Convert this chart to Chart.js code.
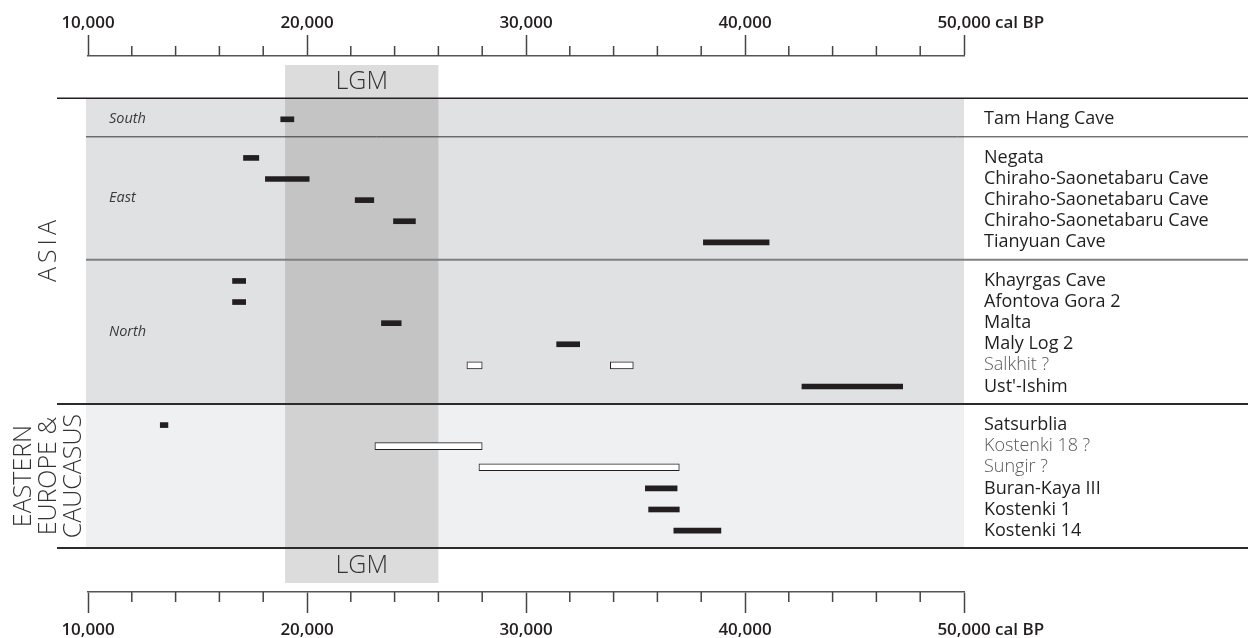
<!DOCTYPE html>
<html>
<head>
<meta charset="utf-8">
<script src="https://cdn.jsdelivr.net/npm/chart.js@4.4.1/dist/chart.umd.min.js"></script>
<style>
  html, body { margin: 0; padding: 0; background: #fff; }
</style>
</head>
<body>
<canvas id="chart" width="1248" height="638"></canvas>
<script>
// sites, top to bottom
const sites = [
  'Tam Hang Cave',
  'Negata', 'Chiraho-Saonetabaru Cave', 'Chiraho-Saonetabaru Cave', 'Chiraho-Saonetabaru Cave', 'Tianyuan Cave',
  'Khayrgas Cave', 'Afontova Gora 2', 'Malta', 'Maly Log 2', 'Salkhit ?', "Ust'-Ishim",
  'Satsurblia', 'Kostenki 18 ?', 'Sungir ?', 'Buran-Kaya III', 'Kostenki 1', 'Kostenki 14'
];
const siteRegion = [0, 1, 1, 1, 1, 1, 2, 2, 2, 2, 2, 2, 3, 3, 3, 3, 3, 3];
const regionNames = ['South', 'East', 'North', ''];
const regionArea = [0, 0, 0, 1];
const areaNames = [['ASIA'], ['EASTERN', 'EUROPE &', 'CAUCASUS']];

// age ranges (cal BP), one per bar; Salkhit has two
const rangeSite = [0, 1, 2, 3, 4, 5, 6, 7, 8, 9, 10, 10, 11, 12, 13, 14, 15, 16, 17];
const rangeFrom = [18800, 17100, 18100, 22200, 23950, 38100, 16600, 16600, 23400, 31400, 27300, 33850, 42600, 13300, 23100, 27850, 35450, 35600, 36750];
const rangeTo   = [19400, 17800, 20100, 23050, 24950, 41100, 17200, 17200, 24300, 32450, 28000, 34900, 47200, 13650, 28000, 37000, 36900, 37000, 38900];

const majorAges = [10000, 20000, 30000, 40000, 50000];
const majorLabels = ['10,000', '20,000', '30,000', '40,000', '50,000'];
const ageUnit = 'cal BP';
const lgm = [19000, 26000];

const GROUP_GAP = 1.83;
const INK = '#231f20';
const uncertain = sites.map(s => s.endsWith('?'));

// row position of each site, extra space between regions
const rowOf = [];
sites.forEach((s, i) => {
  if (i === 0) rowOf.push(0);
  else rowOf.push(rowOf[i - 1] + (siteRegion[i] === siteRegion[i - 1] ? 1 : GROUP_GAP));
});

const solidBars = [], openBars = [];
rangeSite.forEach((s, k) => {
  const pt = { x: [rangeFrom[k], rangeTo[k]], y: rowOf[s] };
  (uncertain[s] ? openBars : solidBars).push(pt);
});

const LABEL_FONT = { family: "'Open Sans', sans-serif", size: 17, weight: '600' };

const decor = {
  id: 'decor',
  beforeDatasetsDraw(chart) {
    const { ctx, chartArea: ca, scales } = chart;
    const x = scales.x, y = scales.y;
    const W = chart.width;
    const left = ca.left - 2, axisLeft = 57;

    // region boundaries
    const starts = [], ends = [];
    siteRegion.forEach((r, i) => {
      if (i === 0 || r !== siteRegion[i - 1]) starts.push(i);
      if (i === sites.length - 1 || r !== siteRegion[i + 1]) ends.push(i);
    });
    const topOf = g => y.getPixelForValue(rowOf[starts[g]] - 1);
    const botOf = g => y.getPixelForValue(rowOf[ends[g]] + GROUP_GAP - 1);

    // area panels
    const areaFill = ['#e0e1e3', '#eff0f2'];
    const lgmFill = ['#c4c4c5', '#d2d2d2'];
    const areaSpan = areaNames.map((_, a) => {
      const gs = regionNames.map((_, g) => g).filter(g => regionArea[g] === a);
      return [topOf(gs[0]), botOf(gs[gs.length - 1])];
    });
    const lx0 = x.getPixelForValue(lgm[0]), lx1 = x.getPixelForValue(lgm[1]);
    ctx.save();
    ctx.fillStyle = '#dcdcdc';
    ctx.fillRect(lx0, ca.top + 9, lx1 - lx0, ca.bottom - ca.top - 18);
    areaSpan.forEach(([t, b], a) => {
      ctx.fillStyle = areaFill[a];
      ctx.fillRect(left, t, ca.right - left, b - t);
      ctx.fillStyle = lgmFill[a];
      ctx.fillRect(lx0, t, lx1 - lx0, b - t);
    });

    // LGM labels
    ctx.fillStyle = '#333';
    ctx.font = "300 25px 'Open Sans', sans-serif";
    ctx.textAlign = 'center';
    ctx.textBaseline = 'middle';
    const first = areaSpan[0][0], last = areaSpan[areaSpan.length - 1][1];
    ctx.fillText('LGM', (lx0 + lx1) / 2, (ca.top + 9 + first) / 2);
    ctx.fillText('LGM', (lx0 + lx1) / 2, (ca.bottom - 9 + last) / 2);

    // lines
    const hline = (yy, x0, w, col) => {
      ctx.strokeStyle = col; ctx.lineWidth = w;
      ctx.beginPath(); ctx.moveTo(x0, yy); ctx.lineTo(W, yy); ctx.stroke();
    };
    hline(first, axisLeft, 1.5, INK);
    areaSpan.forEach(([t, b]) => hline(b, axisLeft, 2, '#2b2b2b'));
    const subStyle = [[1, '#333'], [2, '#808080']];
    let si = 0;
    regionNames.forEach((_, g) => {
      if (g > 0 && regionArea[g] === regionArea[g - 1]) {
        const st = subStyle[Math.min(si++, subStyle.length - 1)];
        hline(topOf(g), left, st[0], st[1]);
      }
    });

    // region names
    ctx.fillStyle = '#3a3a3a';
    ctx.font = "italic 400 14.5px 'Open Sans', sans-serif";
    ctx.textAlign = 'left';
    regionNames.forEach((name, g) => {
      if (!name) return;
      const mid = (rowOf[starts[g]] + rowOf[ends[g]]) / 2;
      ctx.fillText(name, 109, y.getPixelForValue(mid) - (starts[g] === ends[g] ? 0 : 2));
    });

    // area names, rotated
    ctx.fillStyle = '#333';
    ctx.font = "300 25px 'Open Sans', sans-serif";
    ctx.textAlign = 'center';
    areaNames.forEach((lines, a) => {
      const [t, b] = areaSpan[a];
      ctx.save();
      ctx.translate(49, (t + b) / 2);
      ctx.rotate(-Math.PI / 2);
      ctx.letterSpacing = lines.length === 1 ? '4px' : '0px';
      lines.forEach((ln, i) => ctx.fillText(ln, lines.length === 1 ? 2 : 0, (i - (lines.length - 1) / 2) * 25));
      ctx.restore();
    });
    ctx.restore();
  },
  afterDraw(chart) {
    const { ctx, chartArea: ca, scales } = chart;
    ctx.save();
    ctx.strokeStyle = '#444';
    ctx.lineWidth = 1.5;
    // minor ticks
    [scales.x2, scales.x].forEach(s => {
      s.ticks.forEach(t => {
        if (majorAges.includes(t.value)) return;
        const px = s.getPixelForValue(t.value);
        ctx.beginPath();
        if (s.position === 'top') { ctx.moveTo(px, ca.top); ctx.lineTo(px, ca.top - 10); }
        else { ctx.moveTo(px, ca.bottom); ctx.lineTo(px, ca.bottom + 10); }
        ctx.stroke();
      });
    });
    // unit after last label
    ctx.font = `${LABEL_FONT.weight} ${LABEL_FONT.size}px ${LABEL_FONT.family}`;
    ctx.fillStyle = INK;
    ctx.textAlign = 'left';
    ctx.textBaseline = 'middle';
    const lh = LABEL_FONT.size * 1.2;
    const last = majorAges[majorAges.length - 1];
    const lx = scales.x.getPixelForValue(last) + ctx.measureText(majorLabels[majorLabels.length - 1]).width / 2;
    const topY = scales.x2.bottom - 21 - scales.x2.options.ticks.padding - lh / 2;
    const botY = scales.x.top + 21 + scales.x.options.ticks.padding + lh / 2;
    ctx.fillText(' ' + ageUnit, lx, topY);
    ctx.fillText(' ' + ageUnit, lx, botY);
    ctx.restore();
  }
};

const ageAxis = (position, pad, h) => ({
  type: 'linear',
  position,
  min: majorAges[0],
  max: majorAges[majorAges.length - 1],
  afterFit: s => { s.height = h; },
  border: { display: true, color: '#555', width: 1.5 },
  grid: {
    drawOnChartArea: false,
    tickLength: 21,
    tickWidth: 1.5,
    tickColor: c => (c.tick && majorAges.includes(c.tick.value)) ? '#444' : 'rgba(0,0,0,0)'
  },
  ticks: {
    stepSize: 2000,
    autoSkip: false,
    maxRotation: 0,
    padding: pad,
    color: INK,
    font: LABEL_FONT,
    callback: v => { const i = majorAges.indexOf(v); return i >= 0 ? majorLabels[i] : ''; }
  }
});

new Chart(document.getElementById('chart'), {
  type: 'bar',
  data: {
    datasets: [
      {
        label: 'dated',
        data: solidBars,
        backgroundColor: INK,
        borderWidth: 0,
        barThickness: 5,
        grouped: false,
        xAxisID: 'x',
        yAxisID: 'y'
      },
      {
        label: 'uncertain',
        data: openBars,
        backgroundColor: '#ffffff',
        borderColor: INK,
        borderWidth: 1,
        borderSkipped: false,
        barThickness: 7,
        grouped: false,
        xAxisID: 'x',
        yAxisID: 'y'
      }
    ]
  },
  options: {
    indexAxis: 'y',
    responsive: false,
    animation: false,
    layout: { padding: { left: 88, right: 0, top: 0, bottom: 0 } },
    plugins: { legend: { display: false }, tooltip: { enabled: false } },
    scales: {
      x: ageAxis('bottom', 7, 46),
      x2: ageAxis('top', 2, 56),
      y: {
        type: 'linear',
        position: 'right',
        reverse: true,
        offset: false,
        min: -3,
        max: 22.4,
        afterBuildTicks: s => { s.ticks = rowOf.map(v => ({ value: v })); },
        afterFit: s => { s.width = 284; },
        grid: { display: false, drawTicks: false, offset: false },
        border: { display: false },
        ticks: {
          autoSkip: false,
          padding: 20,
          crossAlign: 'near',
          callback: (v, i) => sites[i],
          color: c => uncertain[c.index] ? '#58585a' : '#1f1f1f',
          font: c => ({ family: "'Open Sans', sans-serif", size: 18, weight: uncertain[c.index] ? '300' : '400' })
        }
      }
    }
  },
  plugins: [decor]
});
</script>
</body>
</html>
